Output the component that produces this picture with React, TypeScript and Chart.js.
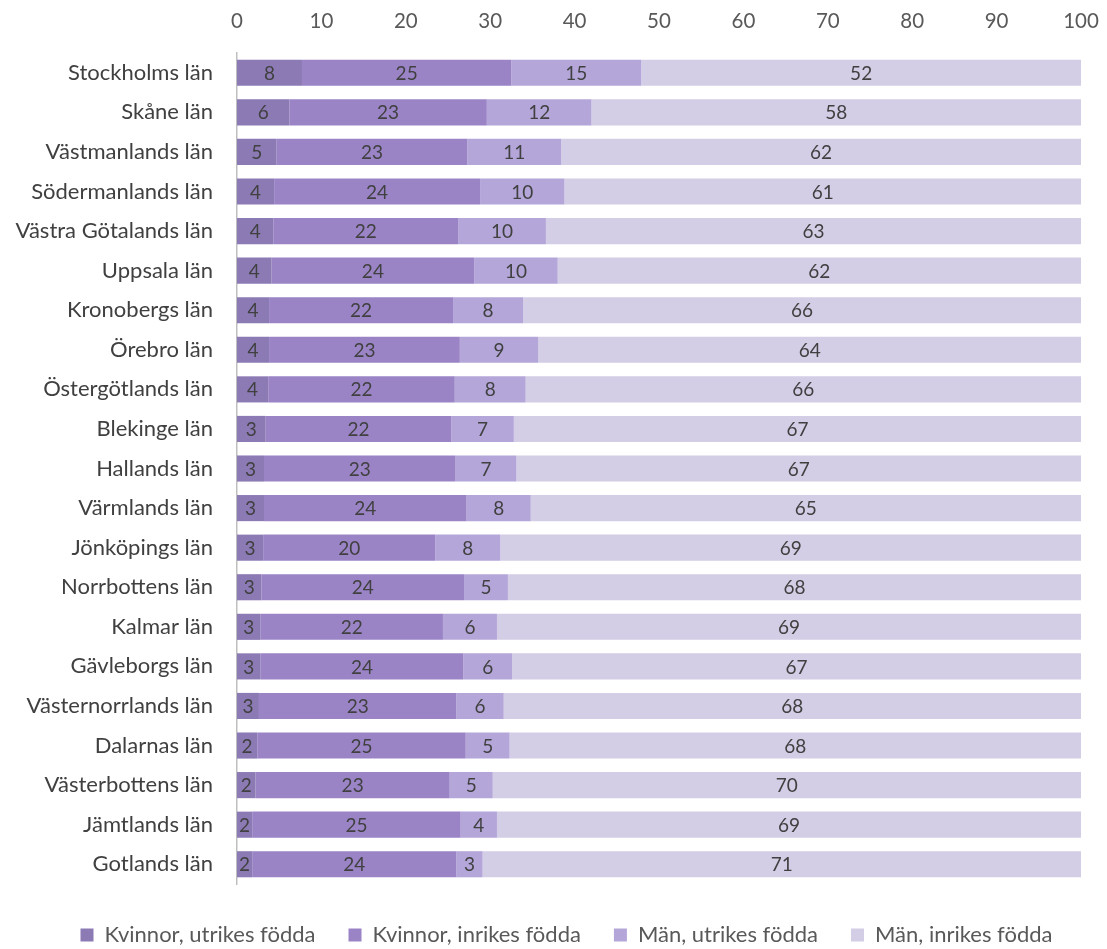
import React, { useEffect, useRef } from "react";
import { Chart, registerables } from "chart.js";

Chart.register(...registerables);

const categories = [
  "Stockholms län",
  "Skåne län",
  "Västmanlands län",
  "Södermanlands län",
  "Västra Götalands län",
  "Uppsala län",
  "Kronobergs län",
  "Örebro län",
  "Östergötlands län",
  "Blekinge län",
  "Hallands län",
  "Värmlands län",
  "Jönköpings län",
  "Norrbottens län",
  "Kalmar län",
  "Gävleborgs län",
  "Västernorrlands län",
  "Dalarnas län",
  "Västerbottens län",
  "Jämtlands län",
  "Gotlands län",
];

const kvinnorUtrikes = [7.7, 6.2, 4.7, 4.4, 4.3, 4.1, 3.8, 3.8, 3.7, 3.4, 3.2, 3.2, 3.1, 2.9, 2.8, 2.8, 2.6, 2.4, 2.2, 1.8, 1.8];
const kvinnorInrikes = [24.8, 23.4, 22.6, 24.4, 21.9, 24.0, 21.8, 22.6, 22.1, 22.0, 22.7, 24.0, 20.4, 24.0, 21.6, 24.0, 23.4, 24.7, 23.0, 24.7, 24.2];
const manUtrikes = [15.4, 12.4, 11.1, 10.0, 10.4, 9.9, 8.3, 9.3, 8.4, 7.4, 7.2, 7.6, 7.7, 5.2, 6.4, 5.8, 5.6, 5.2, 5.1, 4.3, 3.1];
const manInrikes = [52.1, 58.0, 61.6, 61.2, 63.4, 62.0, 66.1, 64.3, 65.8, 67.2, 66.9, 65.2, 68.8, 67.9, 69.2, 67.4, 68.4, 67.7, 69.7, 69.2, 70.9];

const seriesNames = [
  "Kvinnor, utrikes födda",
  "Kvinnor, inrikes födda",
  "Män, utrikes födda",
  "Män, inrikes födda",
];
const seriesColors = ["#8C7AB5", "#9A84C6", "#B4A6D9", "#D3CDE6"];

const FONT = "Lato, 'Liberation Sans', sans-serif";

const barLabels = {
  id: "barLabels",
  afterLayout(chart: any) {
    const lg = chart.legend;
    if (lg) {
      lg.left += 26;
      lg.right += 26;
    }
  },
  afterDatasetsDraw(chart: any) {
    const ctx = chart.ctx;
    ctx.save();
    ctx.font = `19px ${FONT}`;
    ctx.fillStyle = "#404040";
    ctx.textAlign = "center";
    ctx.textBaseline = "middle";
    chart.data.datasets.forEach((ds: any, di: number) => {
      const meta = chart.getDatasetMeta(di);
      meta.data.forEach((bar: any, i: number) => {
        const v = ds.data[i];
        const cx = (bar.x + bar.base) / 2;
        ctx.fillText(String(Math.round(v)), cx, bar.y + 1);
      });
    });
    ctx.restore();
  },
};

export default function App() {
  const ref = useRef<HTMLCanvasElement | null>(null);
  useEffect(() => {
    if (!ref.current) return;
    const data = [kvinnorUtrikes, kvinnorInrikes, manUtrikes, manInrikes];
    const chart = new Chart(ref.current, {
      type: "bar",
      data: {
        labels: categories,
        datasets: data.map((d, i) => ({
          label: seriesNames[i],
          data: d,
          backgroundColor: seriesColors[i],
          borderWidth: 0,
          barPercentage: 0.66,
          categoryPercentage: 1,
        })),
      },
      options: {
        indexAxis: "y",
        animation: false,
        responsive: false,
        maintainAspectRatio: false,
        layout: { padding: { top: 8, right: 26, bottom: 0, left: 0 } },
        plugins: {
          tooltip: { enabled: false },
          legend: {
            position: "bottom",
            title: { display: true, text: "", font: { size: 5.8 }, padding: 0 },
            labels: {
              boxWidth: 13,
              boxHeight: 13,
              padding: 33,
              color: "#595959",
              font: { family: FONT, size: 22 },
            },
          },
        },
        scales: {
          x: {
            position: "top",
            stacked: true,
            min: 0,
            max: 100,
            grid: { display: false },
            border: { display: false },
            ticks: {
              stepSize: 10,
              color: "#595959",
              font: { family: FONT, size: 20.5 },
              padding: 11,
            },
            afterFit: (s: any) => {
              s.height = 45;
              s.paddingRight = 0;
              s.paddingLeft = 0;
            },
          },
          y: {
            stacked: true,
            grid: { display: false },
            border: { display: true, color: "#BFBFBF", width: 1.5 },
            ticks: {
              color: "#404040",
              font: { family: FONT, size: 22 },
              padding: 16,
            },
            afterFit: (s: any) => {
              s.width = 237;
              s.paddingTop = 0;
              s.paddingBottom = 0;
            },
          },
        },
      },
      plugins: [barLabels],
    });
    return () => chart.destroy();
  }, []);
  return (
    <div style={{ position: "fixed", left: 0, top: 0, width: 1107, height: 949, overflow: "hidden", background: "#fff" }}>
      <canvas ref={ref} width={1107} height={956} style={{ width: 1107, height: 956 }} />
    </div>
  );
}
